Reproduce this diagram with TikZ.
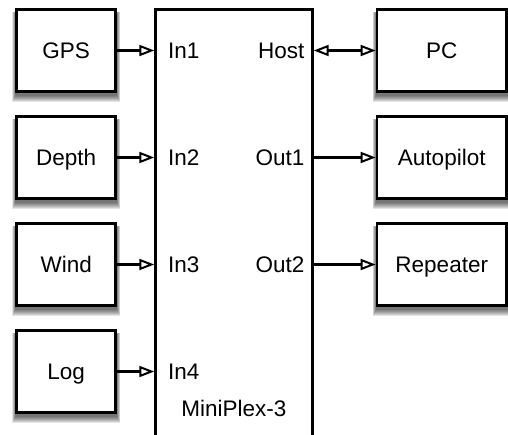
\documentclass[tikz,border=0pt]{standalone}
\usepackage{fontspec}
\setmainfont{Liberation Sans}
\usetikzlibrary{arrows.meta}
\pgfdeclarelayer{bottom}
\pgfdeclarelayer{shadow}
\pgfsetlayers{bottom,shadow,main}
\tikzset{
  box/.style={draw=black, line width=2.8pt, fill=white, text height=15.8pt, text depth=0pt,
    font=\fontsize{22.5}{26}\selectfont},
  lbox/.style={box, minimum width=99pt, minimum height=81.5pt},
  rbox/.style={box, minimum width=129.5pt, minimum height=81.5pt},
  lab/.style={font=\fontsize{22.5}{26}\selectfont, inner sep=0pt, text height=15.8pt, text depth=0pt},
  tip/.tip={Triangle[open, length=15pt, width=11pt, line width=2pt]},
  arr/.style={line width=2.2pt, -tip},
  darr/.style={line width=2.2pt, tip-tip},
}
\newcommand\boxshadow[1]{%
  \foreach \r in {0,1,...,6}{
    \fill[black, opacity=0.1] ([xshift=-0.5*\r pt, yshift=-\r pt-3pt]#1.south west) rectangle ([xshift=0.5*\r pt, yshift=0.3*\r pt-5pt]#1.north east);
  }}
\begin{document}
\begin{tikzpicture}[x=1pt,y=-1pt]
\useasboundingbox (0,0) rectangle (508,434);
\begin{pgfonlayer}{bottom}
\fill[white] (0,0) rectangle (508,434);
\end{pgfonlayer}
\clip (0,0) rectangle (508,434);
% main unit
\node[draw=black, line width=2.8pt, minimum width=156.6pt, minimum height=460pt, inner sep=0pt] (mp) at (234,239.5) {};
% left boxes
\node[lbox] (gps) at (66.2,50.5) {GPS};
\node[lbox] (depth) at (66.2,157.5) {Depth};
\node[lbox] (wind) at (66.2,264.5) {Wind};
\node[lbox] (log) at (66.2,371.5) {Log};
% right boxes
\node[rbox] (pc) at (441.75,50.5) {PC};
\node[rbox] (auto) at (441.75,157.5) {Autopilot};
\node[rbox] (rep) at (441.75,264.5) {Repeater};
\begin{pgfonlayer}{shadow}
\boxshadow{gps}\boxshadow{depth}\boxshadow{wind}\boxshadow{log}
\boxshadow{pc}\boxshadow{auto}\boxshadow{rep}
\end{pgfonlayer}
% labels
\node[lab, anchor=west] (in1) at (168,50.5) {In1};
\node[lab, anchor=west] (in2) at (168,157.5) {In2};
\node[lab, anchor=west] (in3) at (168,264.5) {In3};
\node[lab, anchor=west] (in4) at (168,371.5) {In4};
\node[lab, anchor=east] (host) at (304.5,50.5) {Host};
\node[lab, anchor=east] (out1) at (304.5,157.5) {Out1};
\node[lab, anchor=east] (out2) at (304.5,264.5) {Out2};
\node[lab] (name) at (234,409) {MiniPlex-3};
% connectors
\draw[arr] (gps.east) -- (gps.east -| mp.west);
\draw[arr] (depth.east) -- (depth.east -| mp.west);
\draw[arr] (wind.east) -- (wind.east -| mp.west);
\draw[arr] (log.east) -- (log.east -| mp.west);
\draw[darr] (pc.west -| mp.east) -- (pc.west);
\draw[arr] (auto.west -| mp.east) -- (auto.west);
\draw[arr] (rep.west -| mp.east) -- (rep.west);
\end{tikzpicture}
\end{document}
